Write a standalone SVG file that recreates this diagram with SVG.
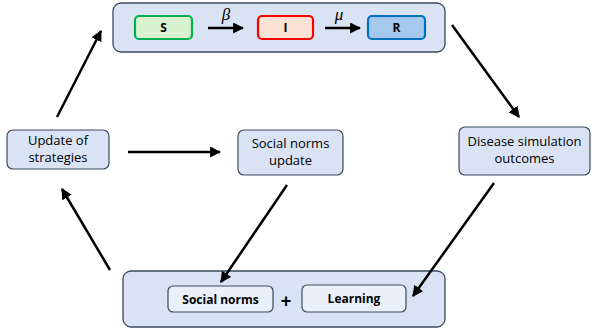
<svg xmlns="http://www.w3.org/2000/svg" width="597" height="335" viewBox="0 0 597 335">
<defs>
<marker id="ah" viewBox="0 0 10 10" refX="9" refY="5" markerWidth="4.4" markerHeight="4.4" orient="auto" markerUnits="strokeWidth">
<path d="M0,0 L10,5 L0,10 z" fill="#000"/>
</marker>
<style>
.panel{fill:#dae3f3;stroke:#3b4a5e;stroke-width:1.3}
.node{fill:#dae3f3;stroke:#3b4a5e;stroke-width:1.2}
.inner{fill:#eaf0f9;stroke:#3b4a5e;stroke-width:1.2}
.t{font-family:"Open Sans","Liberation Sans",sans-serif;font-size:13px;fill:#000;text-anchor:middle}
.b{font-family:"Open Sans","Liberation Sans",sans-serif;font-size:12px;font-weight:bold;fill:#000;text-anchor:middle}
.g{font-family:"Liberation Serif",serif;font-size:17px;font-style:italic;fill:#000;text-anchor:middle}
.c{stroke:#000;stroke-width:2.5;fill:none;marker-end:url(#ah)}
</style>
</defs>
<g id="sir-panel">
<rect class="panel" x="113" y="3" width="332" height="49" rx="8"/>
</g>
<g id="S">
<rect x="135" y="16" width="57" height="23" rx="4" fill="#d9f2d0" stroke="#00b050" stroke-width="2.2"/>
<text class="b" x="163.5" y="32">S</text>
</g>
<g id="I">
<rect x="258" y="16" width="55" height="23" rx="4" fill="#fbe2d5" stroke="#ff0000" stroke-width="2.2"/>
<text class="b" x="285.5" y="32">I</text>
</g>
<g id="R">
<rect x="368" y="16" width="57" height="23" rx="4" fill="#a6c8ec" stroke="#0070c0" stroke-width="2.2"/>
<text class="b" x="396.5" y="32">R</text>
</g>
<g id="update-strategies">
<rect class="node" x="7" y="130" width="102" height="39" rx="6"/>
<text class="t" x="58" y="145">Update of</text>
<text class="t" x="58" y="162">strategies</text>
</g>
<g id="social-norms-update">
<rect class="node" x="238" y="130" width="105" height="45" rx="6"/>
<text class="t" x="290.5" y="148">Social norms</text>
<text class="t" x="290.5" y="165">update</text>
</g>
<g id="disease-outcomes">
<rect class="node" x="459" y="127" width="131" height="48" rx="6"/>
<text class="t" x="524.5" y="146">Disease simulation</text>
<text class="t" x="524.5" y="163">outcomes</text>
</g>
<g id="bottom-panel">
<rect class="panel" x="123" y="271" width="322" height="56" rx="8"/>
</g>
<g id="social-norms">
<rect class="inner" x="168" y="286" width="105" height="26" rx="5"/>
<text class="b" x="220.5" y="303.5">Social norms</text>
</g>
<g id="plus">
<text x="286" y="307" font-family="Liberation Sans,sans-serif" font-size="18" font-weight="bold" text-anchor="middle">+</text>
</g>
<g id="learning">
<rect class="inner" x="302" y="285" width="104" height="27" rx="5"/>
<text class="b" x="354" y="303">Learning</text>
</g>
<g id="connectors">
<path class="c" d="M208,28 L243,28"/>
<path class="c" d="M325,28 L360,28"/>
<text class="g" x="226" y="20">β</text>
<text class="g" x="339" y="20">μ</text>
<path class="c" d="M57,117 L101,31"/>
<path class="c" d="M452,25 L519,117"/>
<path class="c" d="M128,152 L220,152"/>
<path class="c" d="M494,183 L413,296"/>
<path class="c" d="M287,185 L221,282"/>
<path class="c" d="M110,270 L62,189"/>
</g>
</svg>
